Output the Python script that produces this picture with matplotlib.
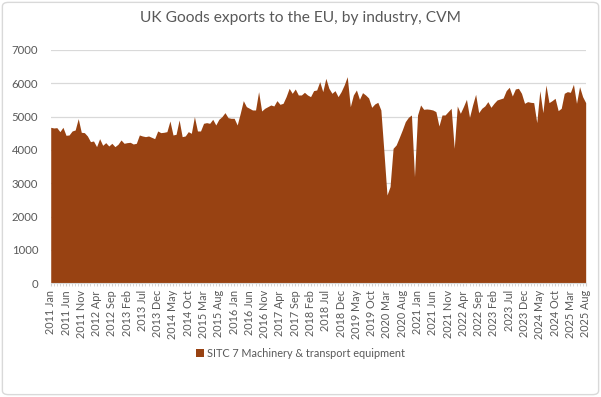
import numpy as np
import matplotlib.pyplot as plt
from matplotlib.patches import FancyBboxPatch

# monthly values, 2011 Jan .. 2025 Aug
exports = [4680, 4660, 4670, 4550, 4680, 4440, 4450, 4570, 4600, 4940,
           4530, 4520, 4420, 4250, 4270, 4100, 4340, 4140, 4220, 4120,
           4200, 4100, 4170, 4300, 4200, 4220, 4230, 4180, 4200, 4450,
           4420, 4400, 4420, 4380, 4340, 4570, 4520, 4530, 4550, 4870,
           4450, 4470, 4900, 4400, 4420, 4550, 4500, 5000, 4570, 4570,
           4800, 4820, 4800, 4920, 4750, 4920, 5000, 5120, 4970, 4950,
           4950, 4750, 5100, 5480, 5300, 5250, 5200, 5200, 5750, 5170,
           5250, 5300, 5350, 5320, 5480, 5370, 5400, 5600, 5850, 5700,
           5830, 5650, 5650, 5730, 5650, 5600, 5780, 5800, 6050, 5750,
           6150, 5850, 5700, 5780, 5600, 5750, 5950, 6200, 5300, 5650,
           5800, 5520, 5720, 5650, 5560, 5280, 5380, 5430, 5200, 3950,
           2650, 2900, 4050, 4150, 4370, 4600, 4850, 4980, 5050, 3200,
           5050, 5350, 5220, 5230, 5220, 5200, 5150, 4720, 5050, 5050,
           5150, 5250, 4050, 5320, 5100, 5300, 5520, 4980, 5350, 5670,
           5120, 5250, 5320, 5450, 5280, 5400, 5500, 5530, 5560, 5780,
           5880, 5620, 5830, 5850, 5700, 5400, 5450, 5430, 5420, 4820,
           5780, 5120, 5950, 5420, 5480, 5550, 5180, 5250, 5700, 5750,
           5730, 5970, 5400, 5900, 5600, 5420]
months = ['Jan', 'Feb', 'Mar', 'Apr', 'May', 'Jun', 'Jul', 'Aug', 'Sep', 'Oct', 'Nov', 'Dec']
labels = [str(2011 + i // 12) + ' ' + months[i % 12] for i in range(len(exports))]
series_name = 'SITC 7 Machinery & transport equipment'

plt.rcParams['font.family'] = ['Lato', 'DejaVu Sans']
grey = '#595959'

fig = plt.figure(figsize=(6.01, 3.97), dpi=100)
ax = fig.add_axes([0.0844, 0.2864, 0.8901, 0.5877])

x = np.arange(len(exports))
ax.fill_between(x, 0, exports, color='#984212', linewidth=0, label=series_name, zorder=2)

ax.set_xlim(0, len(exports) - 1)
ax.set_ylim(0, 7000)
ax.set_yticks(range(0, 7001, 1000))
ax.grid(axis='y', color='#d9d9d9', linewidth=0.9, zorder=0)
ax.set_axisbelow(True)

ax.set_xticks(x[::5])
ax.set_xticklabels(labels[::5], rotation=90)
ax.set_xticks(x, minor=True)
ax.tick_params(axis='x', which='both', length=2.5, color='#d0d0d0', labelsize=7.8, labelcolor=grey, pad=2.5)
ax.tick_params(axis='y', length=0, labelsize=8.2, labelcolor=grey, pad=9)
for s in ['top', 'right', 'left']:
    ax.spines[s].set_visible(False)
ax.spines['bottom'].set_color('#d9d9d9')

fig.text(0.5, 0.955, 'UK Goods exports to the EU, by industry, CVM', ha='center', va='center',
         fontsize=11.2, color=grey)

fig.legend(loc='center', bbox_to_anchor=(0.5, 0.109), frameon=False, fontsize=7.8,
           labelcolor=grey, handlelength=0.75, handleheight=0.75, handletextpad=0.35)

border = FancyBboxPatch((0.004, 0.006), 0.992, 0.988, boxstyle='round,pad=0,rounding_size=0.01',
                        transform=fig.transFigure, facecolor='none', edgecolor='#d9d9d9', linewidth=1)
fig.patches.append(border)

plt.savefig('out.png', dpi=100)
